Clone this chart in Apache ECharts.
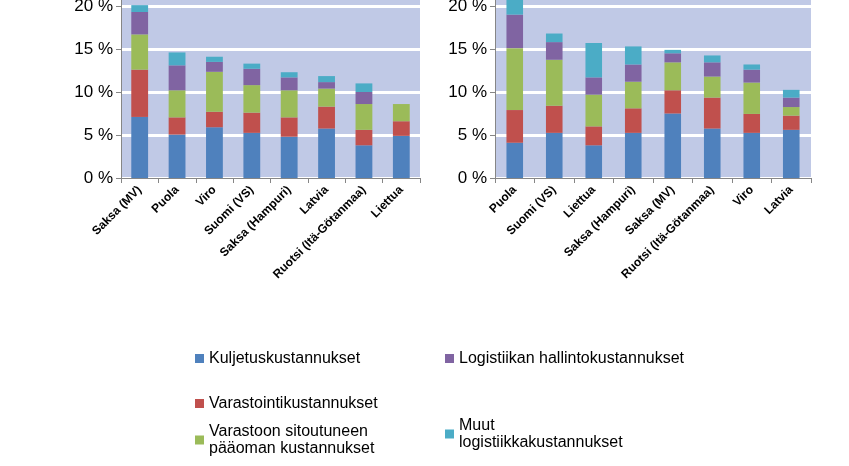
<!DOCTYPE html>
<html>
<head>
<meta charset="utf-8">
<script src="https://cdn.jsdelivr.net/npm/echarts@6/dist/echarts.min.js"></script>
<style>html,body{margin:0;padding:0;background:#fff}#c{width:849px;height:466px}</style>
</head>
<body>
<div id="c"></div>
<script>
const seriesNames = ['Kuljetuskustannukset', 'Varastointikustannukset', 'Varastoon sitoutuneen\npääoman kustannukset', 'Logistiikan hallintokustannukset', 'Muut\nlogistiikkakustannukset']
const colors = ['#4f81bd', '#c0504d', '#9bbb59', '#8064a2', '#4bacc6']

const leftCats = ['Saksa (MV)', 'Puola', 'Viro', 'Suomi (VS)', 'Saksa (Hampuri)', 'Latvia', 'Ruotsi (Itä-Götanmaa)', 'Liettua']
const leftKuljetus = [7.1, 5.05, 5.9, 5.25, 4.8, 5.75, 3.8, 4.9]
const leftVarastointi = [5.5, 2.0, 1.8, 2.35, 2.25, 2.55, 1.8, 1.7]
const leftPaaoma = [4.1, 3.15, 4.65, 3.2, 3.15, 2.1, 3.0, 2.0]
const leftHallinto = [2.6, 2.9, 1.15, 1.9, 1.5, 0.75, 1.4, 0]
const leftMuut = [0.8, 1.5, 0.6, 0.6, 0.6, 0.7, 1.0, 0]

const rightCats = ['Puola', 'Suomi (VS)', 'Liettua', 'Saksa (Hampuri)', 'Saksa (MV)', 'Ruotsi (Itä-Götanmaa)', 'Viro', 'Latvia']
const rightKuljetus = [4.1, 5.25, 3.8, 5.25, 7.5, 5.75, 5.25, 5.6]
const rightVarastointi = [3.8, 3.15, 2.2, 2.85, 2.7, 3.6, 2.2, 1.65]
const rightPaaoma = [7.2, 5.35, 3.7, 3.1, 3.25, 2.45, 3.65, 1.0]
const rightHallinto = [3.9, 2.05, 2.0, 2.0, 1.05, 1.65, 1.5, 1.1]
const rightMuut = [2.0, 1.0, 4.0, 2.1, 0.4, 0.8, 0.6, 0.9]

const leftData = [leftKuljetus, leftVarastointi, leftPaaoma, leftHallinto, leftMuut]
const rightData = [rightKuljetus, rightVarastointi, rightPaaoma, rightHallinto, rightMuut]

const chart = echarts.init(document.getElementById('c'))

const xAxisBase = {
    type: 'category',
    axisLine: { lineStyle: { color: '#868686' } },
    axisTick: { show: true, lineStyle: { color: '#868686' } },
    axisLabel: { rotate: 45, interval: 0, fontWeight: 'bold', fontSize: 12, color: '#000', fontFamily: 'Liberation Sans', margin: 10 }
}
const yAxisBase = {
    type: 'value', min: 0, max: 25, interval: 5,
    axisLine: { show: true, lineStyle: { color: '#868686' } },
    axisTick: { show: true, lineStyle: { color: '#868686' } },
    splitLine: { lineStyle: { color: '#fff', width: 3 } },
    axisLabel: { formatter: '{value} %', fontSize: 17, color: '#000', fontFamily: 'Liberation Sans' }
}

const series = []
leftData.forEach((d, i) => {
    series.push({ name: seriesNames[i], type: 'bar', stack: 'l', xAxisIndex: 0, yAxisIndex: 0, data: d, barWidth: '45%', itemStyle: { color: colors[i] } })
})
rightData.forEach((d, i) => {
    series.push({ name: seriesNames[i], type: 'bar', stack: 'r', xAxisIndex: 1, yAxisIndex: 1, data: d, barWidth: '42%', itemStyle: { color: colors[i] } })
})

const legendPos = [[190, 345], [190, 390], [190, 418], [440, 345], [440, 412]]
const legends = seriesNames.map((n, i) => ({
    data: [n], left: legendPos[i][0], top: legendPos[i][1], itemWidth: 9, itemHeight: 9,
    icon: 'rect', itemGap: 0,
    textStyle: { fontSize: 16, color: '#000', fontFamily: 'Liberation Sans', lineHeight: 17 }
}))

chart.setOption({
    animation: false,
    grid: [
        { left: 121, width: 299, top: -37, bottom: 288, outerBoundsMode: 'none', containLabel: false, show: true, backgroundColor: '#c0c9e6', borderWidth: 0 },
        { left: 495, width: 316, top: -37, bottom: 288, outerBoundsMode: 'none', containLabel: false, show: true, backgroundColor: '#c0c9e6', borderWidth: 0 }
    ],
    xAxis: [
        Object.assign({ gridIndex: 0, data: leftCats }, xAxisBase),
        Object.assign({ gridIndex: 1, data: rightCats }, xAxisBase)
    ],
    yAxis: [
        Object.assign({ gridIndex: 0 }, yAxisBase),
        Object.assign({ gridIndex: 1 }, yAxisBase)
    ],
    legend: legends,
    series: series
})
</script>
</body>
</html>
